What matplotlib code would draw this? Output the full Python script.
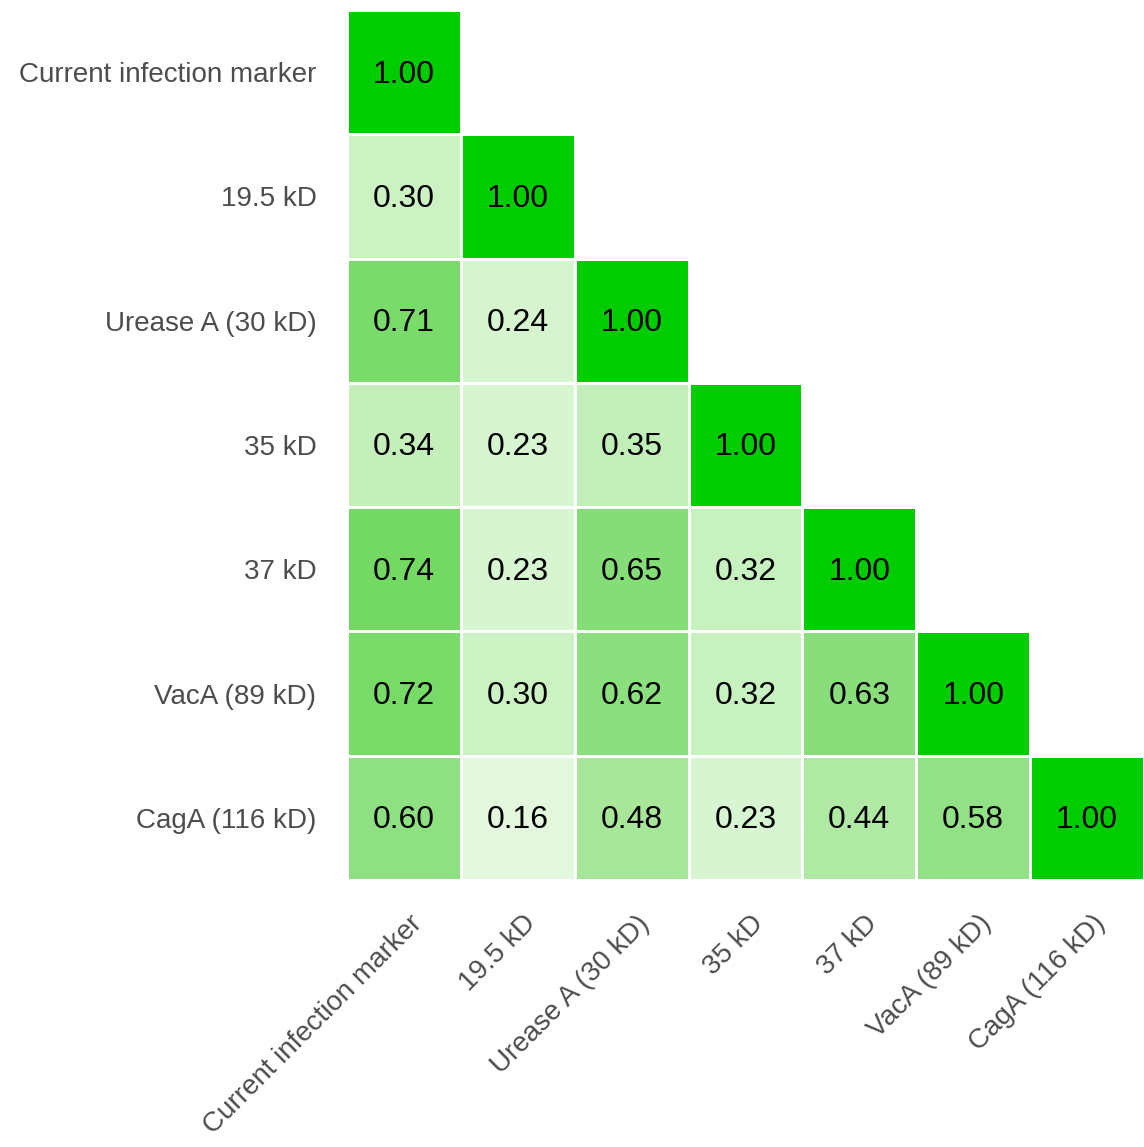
import numpy as np
import matplotlib
matplotlib.use("Agg")
import matplotlib.pyplot as plt
from matplotlib.colors import LinearSegmentedColormap, Normalize
from matplotlib.transforms import ScaledTranslation

labels = ["Current infection marker", "19.5 kD", "Urease A (30 kD)", "35 kD",
          "37 kD", "VacA (89 kD)", "CagA (116 kD)"]

row0 = [1.00]
row1 = [0.30, 1.00]
row2 = [0.71, 0.24, 1.00]
row3 = [0.34, 0.23, 0.35, 1.00]
row4 = [0.74, 0.23, 0.65, 0.32, 1.00]
row5 = [0.72, 0.30, 0.62, 0.32, 0.63, 1.00]
row6 = [0.60, 0.16, 0.48, 0.23, 0.44, 0.58, 1.00]
rows = [row0, row1, row2, row3, row4, row5, row6]

n = len(labels)
M = np.full((n, n), np.nan)
for i, r in enumerate(rows):
    M[i, :len(r)] = r
Mm = np.ma.masked_invalid(M)

cmap = LinearSegmentedColormap.from_list("g", [
    (0.0, "#FFFFFF"), (0.16, "#E2F7DC"), (0.30, "#CCF2C4"), (0.48, "#A8E79A"),
    (0.60, "#8FE082"), (0.74, "#74D963"), (1.0, "#00CC00")])

plt.rcParams['font.family'] = ['Liberation Sans', 'DejaVu Sans']
fig = plt.figure(figsize=(11.44, 11.47), dpi=100)
ax = fig.add_axes([347/1144, 1-880/1147, 1-347/1144, (880-10)/1147])
ax.pcolormesh(np.arange(n+1), np.arange(n+1), Mm, cmap=cmap, norm=Normalize(0, 1),
              edgecolors="white", linewidth=1.0)
ax.set_xlim(0, n)
ax.set_ylim(n, 0)
for i, r in enumerate(rows):
    for j, v in enumerate(r):
        ax.text(j + 0.5, i + 0.52, f"{v:.2f}", ha="center", va="center",
                fontsize=23, color="black")
ax.set_xticks(np.arange(n) + 0.5)
ax.set_yticks(np.arange(n) + 0.5)
ax.set_yticklabels(labels, fontsize=20, color="#4D4D4D")
ax.set_xticklabels(labels, fontsize=20, color="#4D4D4D", rotation=45,
                   ha="right", va="top", rotation_mode="anchor")
ax.tick_params(axis="both", length=0)
ax.tick_params(axis="y", pad=22)
ax.tick_params(axis="x", pad=22)
off = ScaledTranslation(5/100, 0, fig.dpi_scale_trans)
for t in ax.get_xticklabels():
    t.set_transform(t.get_transform() + off)
for s in ax.spines.values():
    s.set_visible(False)
fig.savefig("out.png", dpi=100)
